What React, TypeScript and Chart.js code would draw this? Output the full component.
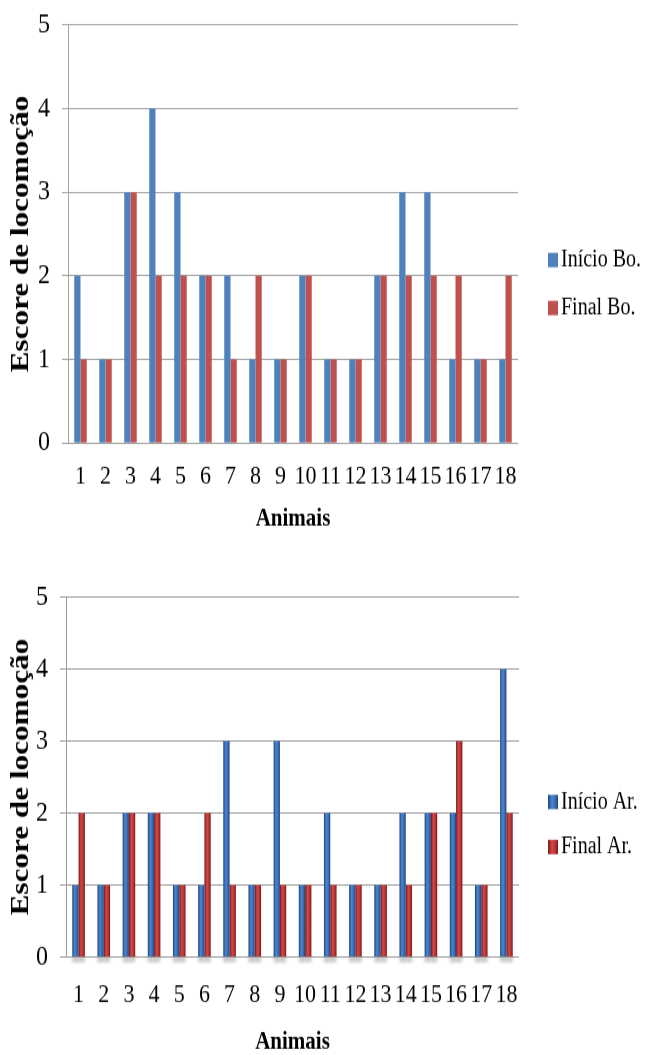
import React, { useEffect, useRef } from "react";
import { Chart, registerables } from "chart.js";

Chart.register(...registerables);

// ---------- data ----------
const animals = ["1", "2", "3", "4", "5", "6", "7", "8", "9", "10", "11", "12", "13", "14", "15", "16", "17", "18"];
const yTicks = [0, 1, 2, 3, 4, 5];

const topSeriesNames = ["Início Bo.", "Final Bo."];
const inicioBo = [2, 1, 3, 4, 3, 2, 2, 1, 1, 2, 1, 1, 2, 3, 3, 1, 1, 1];
const finalBo = [1, 1, 3, 2, 2, 2, 1, 2, 1, 2, 1, 1, 2, 2, 2, 2, 1, 2];

const bottomSeriesNames = ["Início Ar.", "Final Ar."];
const inicioAr = [1, 1, 2, 2, 1, 1, 3, 1, 3, 1, 2, 1, 1, 2, 2, 2, 1, 4];
const finalAr = [2, 1, 2, 2, 1, 2, 1, 1, 1, 1, 1, 1, 1, 1, 2, 3, 1, 2];

const xTitle = "Animais";
const yTitle = "Escore de locomoção";

// ---------- styles ----------
const SERIF = "'Liberation Serif', 'Times New Roman', Times, serif";
const CAT_PCT = 0.5;
const BAR_PCT = 1.0;
const STRETCH = 1.2; // the reference is drawn vertically stretched

type Palette = { dark: string; light: string; mid: string };

type PanelSpec = {
  top: number;
  height: number;
  plotLeft: number;
  plotRight: number;
  plotTop: number;
  plotBottom: number;
  tickPadX: number;
  xTitlePadBottom: number;
  names: string[];
  values: number[][];
  flatColors?: string[];
  cylinder?: Palette[];
  gridColor: string;
  legendY: number[];
  shadow: boolean;
};

function makeGradient(ctx: CanvasRenderingContext2D, left: number, right: number, p: Palette): any {
  if (!Number.isFinite(left) || !Number.isFinite(right) || right <= left) return p.mid;
  const g = ctx.createLinearGradient(left, 0, right, 0);
  g.addColorStop(0, p.dark);
  g.addColorStop(0.4, p.light);
  g.addColorStop(0.75, p.mid);
  g.addColorStop(1, p.dark);
  return g;
}

const sideLegend = {
  id: "sideLegend",
  afterDraw(chart: any, _args: any, opts: any) {
    const ctx: CanvasRenderingContext2D = chart.ctx;
    ctx.save();
    ctx.font = `20px ${SERIF}`;
    ctx.textBaseline = "middle";
    ctx.textAlign = "left";
    chart.data.datasets.forEach((ds: any, i: number) => {
      const y = opts.y[i] / STRETCH;
      const bx = opts.boxX;
      const bw = 10;
      const bh = 12;
      if (opts.cylinder) {
        ctx.fillStyle = makeGradient(ctx, bx, bx + bw, opts.cylinder[i]);
      } else {
        ctx.fillStyle = opts.colors[i];
      }
      ctx.fillRect(bx, y - bh / 2, bw, bh);
      ctx.fillStyle = "#000";
      ctx.fillText(ds.label, opts.textX, y);
    });
    ctx.restore();
  },
};

const baseShadow = {
  id: "baseShadow",
  beforeDatasetsDraw(chart: any, _args: any, opts: any) {
    if (!opts || !opts.enabled) return;
    const ctx: CanvasRenderingContext2D = chart.ctx;
    const base = chart.scales.y.getPixelForValue(0);
    ctx.save();
    ctx.filter = "blur(1.5px)";
    ctx.fillStyle = "rgba(110,110,110,0.45)";
    chart.data.datasets.forEach((_ds: any, di: number) => {
      const meta = chart.getDatasetMeta(di);
      meta.data.forEach((el: any) => {
        const w = el.width;
        ctx.fillRect(el.x - w / 2, base, w, 4);
      });
    });
    ctx.restore();
  },
};

function buildConfig(spec: PanelSpec): any {
  const datasets = spec.names.map((name, i) => {
    let bg: any;
    if (spec.cylinder) {
      const pal = spec.cylinder[i];
      bg = (c: any) => {
        try {
          const xs = c.chart.scales?.x;
          if (c.type !== "data" || !xs || !Number.isFinite(xs.width) || xs.width <= 0) return pal.mid;
          const center = xs.getPixelForValue(c.dataIndex);
          const catW = xs.width / animals.length;
          const groupW = catW * CAT_PCT * BAR_PCT;
          const w = groupW / spec.names.length;
          const left = center - groupW / 2 + w * i;
          return makeGradient(c.chart.ctx, left, left + w, pal);
        } catch (e) {
          return pal.mid;
        }
      };
    } else {
      bg = spec.flatColors![i];
    }
    return {
      label: name,
      data: spec.values[i],
      backgroundColor: bg,
      borderWidth: 0,
      categoryPercentage: CAT_PCT,
      barPercentage: BAR_PCT,
    };
  });

  const H = spec.height / STRETCH;

  return {
    type: "bar",
    data: { labels: animals, datasets },
    plugins: [baseShadow, sideLegend],
    options: {
      animation: false,
      responsive: true,
      maintainAspectRatio: false,
      events: [],
      layout: {
        padding: { left: 0, top: spec.plotTop / STRETCH, right: 647 - spec.plotRight, bottom: 0 },
      },
      plugins: {
        legend: { display: false },
        tooltip: { enabled: false },
        baseShadow: { enabled: spec.shadow },
        sideLegend: {
          y: spec.legendY,
          boxX: 548,
          textX: 561,
          colors: spec.flatColors,
          cylinder: spec.cylinder,
        },
      },
      scales: {
        x: {
          type: "category",
          grid: { display: false, drawTicks: false },
          border: { display: false },
          ticks: {
            autoSkip: false,
            maxRotation: 0,
            minRotation: 0,
            padding: spec.tickPadX,
            color: "#000",
            font: { family: SERIF, size: 22 },
          },
          title: {
            display: true,
            text: xTitle,
            color: "#000",
            font: { family: SERIF, size: 21, weight: "bold" },
            padding: { top: 0, bottom: spec.xTitlePadBottom },
          },
          afterFit: (s: any) => {
            s.height = H - spec.plotBottom / STRETCH;
            s.paddingLeft = 0;
            s.paddingRight = 0;
          },
        },
        y: {
          min: 0,
          max: 5,
          afterBuildTicks: (s: any) => {
            s.ticks = yTicks.map((v) => ({ value: v }));
          },
          grid: { color: spec.gridColor, lineWidth: 1, tickLength: 6, drawTicks: true },
          border: { display: true, color: spec.gridColor, width: 1 },
          ticks: {
            padding: 12,
            color: "#000",
            font: { family: SERIF, size: 24 },
            callback: (v: any) => String(v),
          },
          title: {
            display: true,
            text: yTitle,
            color: "#000",
            font: { family: SERIF, size: 26, weight: "bold" },
            padding: { top: 6, bottom: 0 },
          },
          afterFit: (s: any) => {
            s.width = spec.plotLeft;
            s.paddingTop = 0;
            s.paddingBottom = 0;
          },
        },
      },
    },
  };
}

function Panel({ spec }: { spec: PanelSpec }) {
  const ref = useRef<HTMLCanvasElement | null>(null);
  useEffect(() => {
    if (!ref.current) return;
    const chart = new Chart(ref.current, buildConfig(spec));
    return () => chart.destroy();
  }, [spec]);
  return (
    <div
      style={{
        position: "absolute",
        left: 0,
        top: spec.top,
        width: 647,
        height: spec.height / STRETCH,
        transform: `scaleY(${STRETCH})`,
        transformOrigin: "top left",
      }}
    >
      <canvas ref={ref} />
    </div>
  );
}

const topSpec: PanelSpec = {
  top: 0,
  height: 540,
  plotLeft: 68,
  plotRight: 518,
  plotTop: 25,
  plotBottom: 443,
  tickPadX: 15,
  xTitlePadBottom: 5,
  names: topSeriesNames,
  values: [inicioBo, finalBo],
  flatColors: ["#4F81BD", "#C0504D"],
  gridColor: "#A3A3A3",
  legendY: [260, 308],
  shadow: false,
};

const bottomSpec: PanelSpec = {
  top: 540,
  height: 515,
  plotLeft: 66,
  plotRight: 519,
  plotTop: 57,
  plotBottom: 417,
  tickPadX: 18,
  xTitlePadBottom: -2,
  names: bottomSeriesNames,
  values: [inicioAr, finalAr],
  cylinder: [
    { dark: "#1c457d", light: "#4f86cf", mid: "#3568b0" },
    { dark: "#7a1616", light: "#d24a4a", mid: "#b53030" },
  ],
  gridColor: "#9A9A9A",
  legendY: [262, 307],
  shadow: true,
};

export default function App() {
  return (
    <div style={{ position: "absolute", left: 0, top: 0, width: 647, height: 1055, background: "#fff", overflow: "hidden" }}>
      <Panel spec={topSpec} />
      <Panel spec={bottomSpec} />
    </div>
  );
}
